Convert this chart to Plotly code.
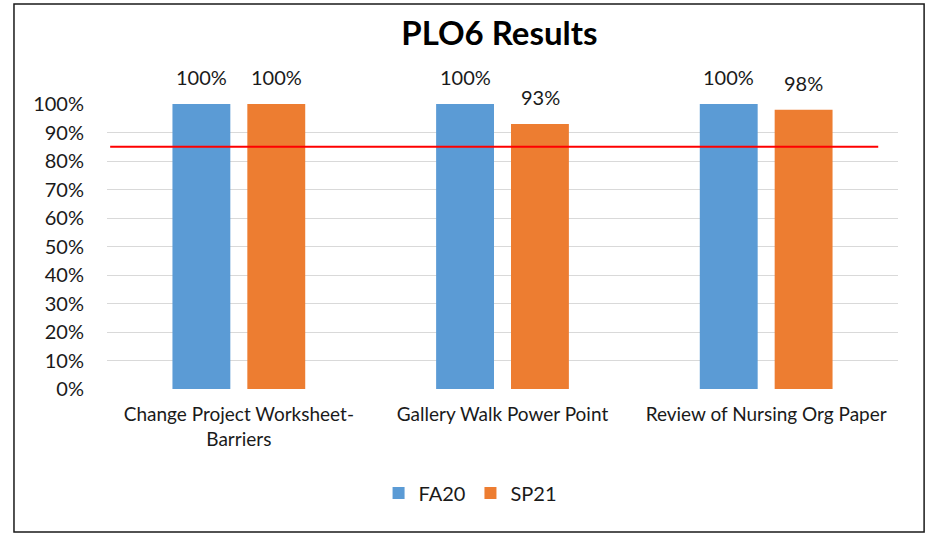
import plotly.graph_objects as go

categories = ["Change Project Worksheet-<br>Barriers", "Gallery Walk Power Point", "Review of Nursing Org Paper"]
series_names = ["FA20", "SP21"]
fa20 = [1.00, 1.00, 1.00]
sp21 = [1.00, 0.93, 0.98]
target = 0.85
y_ticks = [0, 0.1, 0.2, 0.3, 0.4, 0.5, 0.6, 0.7, 0.8, 0.9, 1.0]
tick_labels = ["0%", "10%", "20%", "30%", "40%", "50%", "60%", "70%", "80%", "90%", "100%"]
colors = ["#5B9BD5", "#ED7D31"]

FONT = "Lato"
TXT = "#1a1a1a"

fig = go.Figure()
for name, vals, col in zip(series_names, [fa20, sp21], colors):
    fig.add_trace(go.Bar(name=name, x=categories, y=vals, marker=dict(color=col, line=dict(width=0))))

annotations = []
for shift, vals in zip([-37.5, 37.5], [fa20, sp21]):
    for c, v in zip(categories, vals):
        annotations.append(dict(x=c, y=v, xref="x", yref="y", text=f"{round(v*100)}%",
                                showarrow=False, xshift=shift, yshift=27, yanchor="middle",
                                font=dict(family=FONT, size=20, color=TXT)))

fig.add_shape(type="line", xref="paper", yref="y", x0=0.004, x1=0.975, y0=target, y1=target,
              line=dict(color="#FF0000", width=2))
fig.add_shape(type="rect", xref="paper", yref="paper", x0=-0.1176, x1=1.033, y0=-0.502, y1=1.351,
              line=dict(color="#1a1a1a", width=1.5), fillcolor="rgba(0,0,0,0)", layer="below")

fig.update_layout(
    width=930, height=534, autosize=False,
    margin=dict(l=107, r=32, t=104, b=145),
    paper_bgcolor="white", plot_bgcolor="white",
    barmode="group", bargap=0.432, bargroupgap=0.227,
    title=dict(text="<b>PLO6 Results</b>", x=0.537, xanchor="center", y=0.938, yanchor="middle",
               font=dict(family=FONT, size=33, color="#000")),
    font=dict(family=FONT, size=19, color=TXT),
    xaxis=dict(showgrid=False, showline=False, ticks="", ticklabelstandoff=12,
               tickfont=dict(size=19, color=TXT)),
    yaxis=dict(range=[0, 1.0], tickvals=y_ticks, ticktext=tick_labels, showgrid=True,
               gridcolor="#D9D9D9", gridwidth=1, zeroline=False, showline=False, ticks="",
               ticklabelstandoff=22, tickfont=dict(size=20, color=TXT)),
    legend=dict(orientation="h", x=0.459, xanchor="center", y=-0.365, yanchor="middle",
                font=dict(size=20, color=TXT), itemwidth=30, traceorder="normal"),
    annotations=annotations,
)

fig.write_html("out.html", config={"displayModeBar": False},
               post_script="document.body.style.margin='0';document.body.style.padding='0';")
